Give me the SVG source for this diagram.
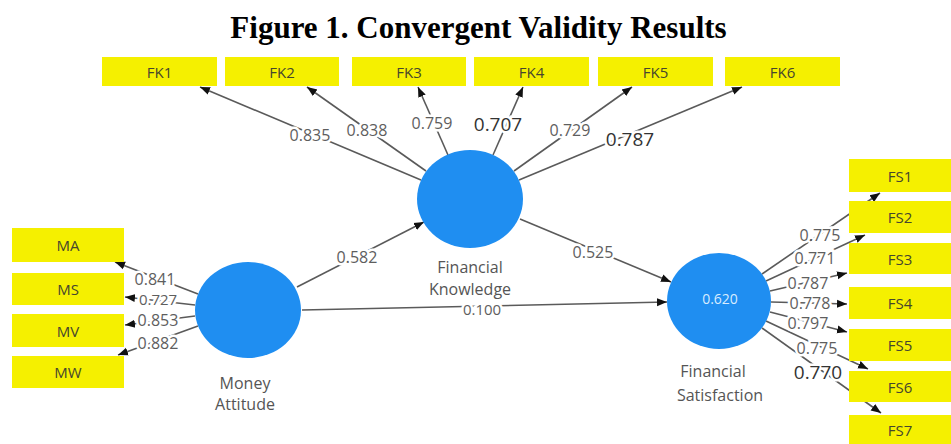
<svg xmlns="http://www.w3.org/2000/svg" width="951" height="444" viewBox="0 0 951 444">
<defs>
<marker id="arr" markerUnits="userSpaceOnUse" markerWidth="10" markerHeight="10" viewBox="0 0 10 10" refX="10" refY="5" orient="auto">
<path d="M0,1 L10,5 L0,9 z" fill="#111"/>
</marker>
</defs>
<style>
.box{fill:#f5f000}
.bt{font-family:"Open Sans","Noto Sans",sans-serif;font-size:15px;fill:#46462e;text-anchor:middle;dominant-baseline:central}
.lv{fill:#1f8ef1}
.nl{font-family:"Open Sans","Noto Sans",sans-serif;font-size:16px;fill:#555;text-anchor:middle;dominant-baseline:central}
.e{stroke:#5a5a5a;stroke-width:1.6;fill:none;marker-end:url(#arr)}
.el{font-family:"Open Sans","Noto Sans",sans-serif;font-size:16px;fill:#5e5e5e;text-anchor:middle;dominant-baseline:central;stroke:#fff;stroke-width:5;paint-order:stroke}
.ed{font-size:19px;fill:#333}
.title{font-family:"Liberation Serif","Times New Roman",serif;font-weight:bold;font-size:31px;fill:#000;text-anchor:middle}
</style>
<rect width="951" height="444" fill="#fff"/>
<text class="title" x="478.5" y="38">Figure 1. Convergent Validity Results</text>

<g id="connectors">
<line class="e" x1="421" y1="180" x2="200" y2="87"/>
<line class="e" x1="426" y1="171" x2="307" y2="87"/>
<line class="e" x1="448" y1="155" x2="418" y2="87"/>
<line class="e" x1="493" y1="155" x2="523" y2="87"/>
<line class="e" x1="514" y1="171" x2="632" y2="87"/>
<line class="e" x1="519" y1="180" x2="742" y2="87"/>
<line class="e" x1="198" y1="294" x2="115" y2="262"/>
<line class="e" x1="195" y1="305" x2="125" y2="297"/>
<line class="e" x1="195" y1="316" x2="125" y2="325"/>
<line class="e" x1="198" y1="326" x2="118" y2="355"/>
<line class="e" x1="297" y1="287" x2="424" y2="222"/>
<line class="e" x1="520" y1="219" x2="671" y2="282"/>
<line class="e" x1="302" y1="310" x2="667" y2="302"/>
<line class="e" x1="762" y1="274" x2="880" y2="193"/>
<line class="e" x1="766" y1="281" x2="865" y2="235"/>
<line class="e" x1="770" y1="291" x2="847" y2="273"/>
<line class="e" x1="771" y1="302" x2="847" y2="304"/>
<line class="e" x1="770" y1="312" x2="847" y2="332"/>
<line class="e" x1="766" y1="321" x2="868" y2="369"/>
<line class="e" x1="762" y1="328" x2="881" y2="413"/>
<text class="el" x="310" y="135">0.835</text>
<text class="el" x="367" y="130">0.838</text>
<text class="el" x="432" y="123">0.759</text>
<text class="el ed" x="498" y="124">0.707</text>
<text class="el" x="570" y="130">0.729</text>
<text class="el ed" x="630" y="139">0.787</text>
<text class="el" x="155" y="279">0.841</text>
<text class="el" x="158" y="299" style="font-size:15px">0.727</text>
<text class="el" x="158" y="320">0.853</text>
<text class="el" x="158" y="343">0.882</text>
<text class="el" x="357" y="257">0.582</text>
<text class="el" x="593" y="252">0.525</text>
<text class="el" x="482" y="309" style="font-size:15px">0.100</text>
<text class="el" x="820" y="235">0.775</text>
<text class="el" x="815" y="258">0.771</text>
<text class="el" x="808" y="283">0.787</text>
<text class="el" x="810" y="303">0.778</text>
<text class="el" x="808" y="323">0.797</text>
<text class="el" x="817" y="348">0.775</text>
<text class="el ed" x="818" y="372">0.770</text>
</g>

<g id="FK1"><rect class="box" x="102" y="57" width="115" height="29"/><text class="bt" x="159.5" y="71.5">FK1</text></g>
<g id="FK2"><rect class="box" x="225" y="57" width="114" height="29"/><text class="bt" x="282" y="71.5">FK2</text></g>
<g id="FK3"><rect class="box" x="352" y="57" width="114" height="29"/><text class="bt" x="409" y="71.5">FK3</text></g>
<g id="FK4"><rect class="box" x="474" y="57" width="115" height="29"/><text class="bt" x="531.5" y="71.5">FK4</text></g>
<g id="FK5"><rect class="box" x="598" y="57" width="115" height="29"/><text class="bt" x="655.5" y="71.5">FK5</text></g>
<g id="FK6"><rect class="box" x="725" y="57" width="115" height="29"/><text class="bt" x="782.5" y="71.5">FK6</text></g>

<g id="MA"><rect class="box" x="12" y="228" width="112" height="34"/><text class="bt" x="68" y="245">MA</text></g>
<g id="MS"><rect class="box" x="12" y="273" width="112" height="32"/><text class="bt" x="68" y="289">MS</text></g>
<g id="MV"><rect class="box" x="12" y="314" width="112" height="33"/><text class="bt" x="68" y="330.5">MV</text></g>
<g id="MW"><rect class="box" x="12" y="356" width="112" height="32"/><text class="bt" x="68" y="372">MW</text></g>

<g id="FS1"><rect class="box" x="849" y="159" width="110" height="33"/><text class="bt" x="900" y="175.5">FS1</text></g>
<g id="FS2"><rect class="box" x="849" y="201" width="110" height="32"/><text class="bt" x="900" y="217">FS2</text></g>
<g id="FS3"><rect class="box" x="849" y="243" width="110" height="31"/><text class="bt" x="900" y="258.5">FS3</text></g>
<g id="FS4"><rect class="box" x="849" y="287" width="110" height="32"/><text class="bt" x="900" y="303">FS4</text></g>
<g id="FS5"><rect class="box" x="849" y="329" width="110" height="32"/><text class="bt" x="900" y="345">FS5</text></g>
<g id="FS6"><rect class="box" x="849" y="371" width="110" height="31"/><text class="bt" x="900" y="386.5">FS6</text></g>
<g id="FS7"><rect class="box" x="849" y="415" width="110" height="32"/><text class="bt" x="900" y="430">FS7</text></g>

<g id="FinancialKnowledge"><ellipse class="lv" cx="470" cy="199" rx="53" ry="49"/><text class="nl" x="470" y="267">Financial</text><text class="nl" x="470" y="289">Knowledge</text></g>
<g id="MoneyAttitude"><ellipse class="lv" cx="248" cy="310" rx="53" ry="48"/><text class="nl" x="245" y="383">Money</text><text class="nl" x="245" y="404">Attitude</text></g>
<g id="FinancialSatisfaction"><ellipse class="lv" cx="719" cy="301" rx="52" ry="48"/><text class="nl" x="720" y="298" style="fill:#d8ecff;font-size:14px">0.620</text><text class="nl" x="713" y="371">Financial</text><text class="nl" x="720" y="395">Satisfaction</text></g>
</svg>
